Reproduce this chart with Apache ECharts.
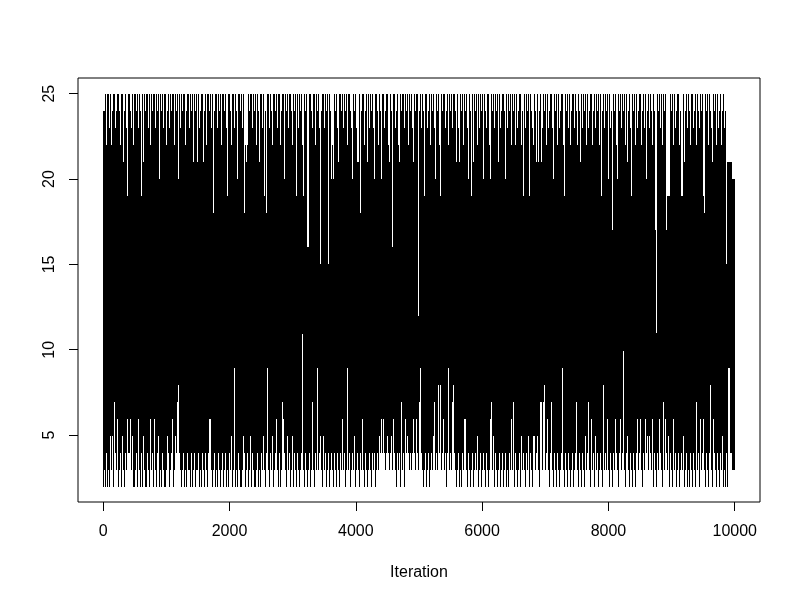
<!DOCTYPE html>
<html>
<head>
<meta charset="utf-8">
<script src="https://cdn.jsdelivr.net/npm/echarts@6/dist/echarts.min.js"></script>
<style>html,body{margin:0;padding:0;background:#fff}#c{width:800px;height:600px}</style>
</head>
<body>
<div id="c"></div>
<script>
// Trace of 10000 iterations, read from the picture as the per-block envelope
// (highest and lowest value reached inside each block of ~16 iterations).
const nIterations = 10000;
const firstValue = 18;
const xTicks = [0, 2000, 4000, 6000, 8000, 10000];
const yTicks = [5, 10, 15, 20, 25];

const blockMax = [
24,24,25,22,25,25,23,25,22,24,25,25,23,24,25,25,24,22,25,25,21,24,25,23,19,25,25,24,23,25,22,25,25,24,25,23,25,24,19,25,
21,25,24,25,25,23,25,22,25,24,25,25,23,25,24,25,20,25,24,25,23,25,25,22,24,25,23,25,24,25,25,22,25,24,25,20,25,23,25,24,
25,25,22,24,25,25,23,25,24,25,21,25,24,25,21,25,23,24,25,25,21,24,25,22,25,25,24,25,23,25,18,24,25,25,23,25,24,25,22,25,
25,24,25,23,19,25,25,24,22,25,25,23,25,24,20,25,25,24,25,23,25,18,22,21,22,25,24,25,25,23,25,24,25,22,25,24,21,25,25,23,
25,19,24,18,25,25,23,25,24,22,25,25,24,25,23,25,25,22,24,25,25,20,25,24,25,23,25,25,24,22,25,24,25,19,25,23,25,24,25,22,
19,25,24,25,16,16,25,25,24,23,25,25,22,25,24,25,23,15,24,25,25,23,25,24,25,15,25,24,20,22,20,25,24,25,23,21,25,25,24,25,
23,25,24,25,22,25,25,24,23,20,25,24,25,23,21,21,25,18,24,25,25,22,24,25,21,25,23,25,24,25,23,20,25,25,24,22,25,24,20,25,
25,23,24,25,25,22,21,25,24,16,25,25,23,24,25,22,21,25,24,25,25,23,25,24,25,22,25,24,25,23,21,25,24,25,25,12,24,25,23,25,
24,19,25,25,23,24,25,22,25,24,25,23,20,25,24,25,22,19,25,24,25,25,23,24,25,22,25,24,25,23,25,25,24,21,25,23,21,25,24,25,
22,25,24,25,23,20,25,24,19,25,21,25,24,25,22,25,23,25,24,25,20,25,24,23,25,25,22,20,25,24,25,23,25,24,25,21,25,23,24,25,
25,24,20,25,23,25,24,25,22,25,24,25,22,25,23,24,25,25,22,24,19,25,23,25,24,25,19,25,24,23,22,25,24,21,25,21,24,25,21,23,
25,24,25,22,25,23,24,25,25,23,20,25,24,25,22,25,23,24,25,25,22,19,25,24,25,23,25,22,24,25,25,23,25,24,22,25,24,21,25,23,
25,24,25,22,25,23,24,25,25,22,24,25,23,25,24,25,22,25,19,24,25,23,25,24,25,20,25,23,24,17,25,24,25,22,20,25,24,25,23,25,
24,25,22,25,21,24,25,23,19,25,24,25,22,25,23,24,25,25,22,24,25,23,25,20,24,25,23,25,24,22,25,24,17,11,25,24,25,23,25,22,
25,24,25,17,19,19,19,25,24,25,22,25,23,24,25,25,22,24,19,19,25,21,24,25,23,25,24,22,25,25,23,24,25,22,25,24,23,25,24,25,
19,18,25,24,25,22,25,24,23,21,25,24,25,22,25,23,24,25,22,24,25,23,24,15,21,21,21,21,21,20,20,20
];

const blockMin = [
2,3,2,4,2,3,2,5,3,5,2,7,4,3,6,2,3,4,2,5,3,2,4,3,6,4,4,6,3,5,2,2,3,4,2,6,3,2,4,2,
5,3,2,2,4,3,2,6,3,4,2,6,3,2,4,5,2,3,2,4,3,2,2,3,5,4,2,3,4,6,2,3,5,4,7,8,4,3,2,3,
4,2,3,2,4,3,3,2,4,2,3,4,2,3,3,4,2,3,2,4,3,2,4,3,2,4,6,6,3,2,3,4,2,3,2,4,3,2,3,4,
2,3,4,2,3,2,4,3,5,2,3,9,2,3,2,4,3,2,2,3,5,4,2,3,4,2,3,5,2,4,3,2,2,3,4,2,3,2,4,3,
5,3,2,4,9,3,2,4,3,5,2,3,4,6,3,2,4,2,3,7,6,4,3,2,5,3,4,2,3,5,2,4,3,2,4,3,2,3,4,11,
3,2,4,3,2,3,4,2,3,7,3,2,4,3,9,3,4,5,3,2,5,3,4,2,3,4,2,3,4,3,2,4,3,2,4,3,2,4,3,6,
3,4,2,3,9,3,4,2,3,4,3,5,2,3,4,3,2,4,3,6,3,2,4,3,2,3,4,3,2,4,3,4,2,3,4,3,5,4,6,4,
6,4,3,4,5,4,3,4,5,3,6,4,3,2,4,3,4,2,7,3,4,2,6,4,5,4,3,4,3,4,6,4,3,6,4,3,7,9,4,3,
2,3,4,2,3,4,2,3,4,3,5,7,3,4,3,8,4,8,3,4,6,3,4,2,4,9,3,4,3,7,8,4,3,2,3,4,2,3,2,4,
3,6,6,3,2,4,3,2,3,4,2,3,4,3,5,2,3,4,2,3,4,3,2,4,3,2,3,6,7,3,5,2,4,3,2,3,4,2,3,4,
2,3,4,2,3,2,4,3,6,3,7,2,4,3,2,3,4,2,5,3,4,3,2,4,3,5,2,4,3,2,5,5,3,4,5,3,2,7,7,3,
7,8,3,4,6,3,2,4,7,3,2,4,3,2,4,3,2,3,4,9,3,2,4,3,2,4,3,2,3,4,2,3,4,7,3,2,4,3,2,4,
3,2,5,3,4,7,3,2,6,3,4,2,5,3,4,2,3,4,3,2,8,3,4,3,6,3,2,4,3,2,4,3,6,4,3,2,4,6,3,4,
10,3,2,4,5,3,2,4,3,2,4,3,2,4,6,3,4,6,3,2,4,3,6,4,5,3,5,4,3,6,2,4,3,2,4,3,6,4,3,2,
7,3,6,4,3,5,2,4,3,2,6,3,4,2,3,4,2,3,4,3,5,2,3,4,2,3,2,4,3,2,4,3,2,7,3,4,2,6,3,4,
6,3,2,4,3,2,4,8,3,2,6,4,3,2,4,3,2,4,3,5,2,3,2,4,2,9,9,4,4,3,3,3
];

// Each block of iterations spans from its lowest to its highest value.
const nBlocks = blockMax.length;
const blockSize = nIterations / nBlocks;
const blocks = blockMax.map((hi, c) => [c * blockSize, (c + 1) * blockSize, hi, blockMin[c]]);
const startSegment = [[1, firstValue], [blockSize / 4, firstValue]];

const font = 'Liberation Sans, Arial, sans-serif';
const chart = echarts.init(document.getElementById('c'), null, {renderer: 'canvas'});
chart.setOption({
  animation: false,
  backgroundColor: '#fff',
  grid: {left: 78, top: 78, right: 40, bottom: 98, show: true, borderColor: '#000', borderWidth: 1, backgroundColor: 'transparent'},
  xAxis: {
    type: 'value', min: -399, max: 10400, position: 'bottom',
    name: 'Iteration', nameLocation: 'middle', nameGap: 63,
    nameTextStyle: {color: '#000', fontSize: 16, fontFamily: font},
    axisLine: {show: false, onZero: false},
    axisTick: {show: true, inside: false, length: 9, lineStyle: {color: '#000', width: 1}, customValues: xTicks},
    axisLabel: {color: '#000', fontSize: 16, fontFamily: font, margin: 22, customValues: xTicks, formatter: v => String(v)},
    splitLine: {show: false}
  },
  yAxis: {
    type: 'value', min: 1.08, max: 25.92, position: 'left',
    axisLine: {show: false, onZero: false},
    axisTick: {show: true, inside: false, length: 9, lineStyle: {color: '#000', width: 1}, customValues: yTicks},
    axisLabel: {color: '#000', fontSize: 16, fontFamily: font, margin: 20, rotate: 90, customValues: yTicks, formatter: v => String(v)},
    splitLine: {show: false}
  },
  series: [{
    type: 'custom',
    data: blocks,
    encode: {x: [0, 1], y: [2, 3]},
    silent: true,
    renderItem: function (params, api) {
      const top = api.coord([api.value(0), api.value(2)]);
      const bot = api.coord([api.value(1), api.value(3)]);
      const x0 = Math.round(top[0]);
      const x1 = Math.round(bot[0]);
      const y0 = Math.round(top[1]);
      const y1 = Math.round(bot[1]) + 1;
      return {type: 'rect', shape: {x: x0, y: y0, width: Math.max(1, x1 - x0), height: y1 - y0}, style: {fill: '#000'}};
    }
  }, {
    type: 'line', data: startSegment, showSymbol: false, symbol: 'none', silent: true,
    lineStyle: {color: '#000', width: 1}
  }]
});
</script>
</body>
</html>
